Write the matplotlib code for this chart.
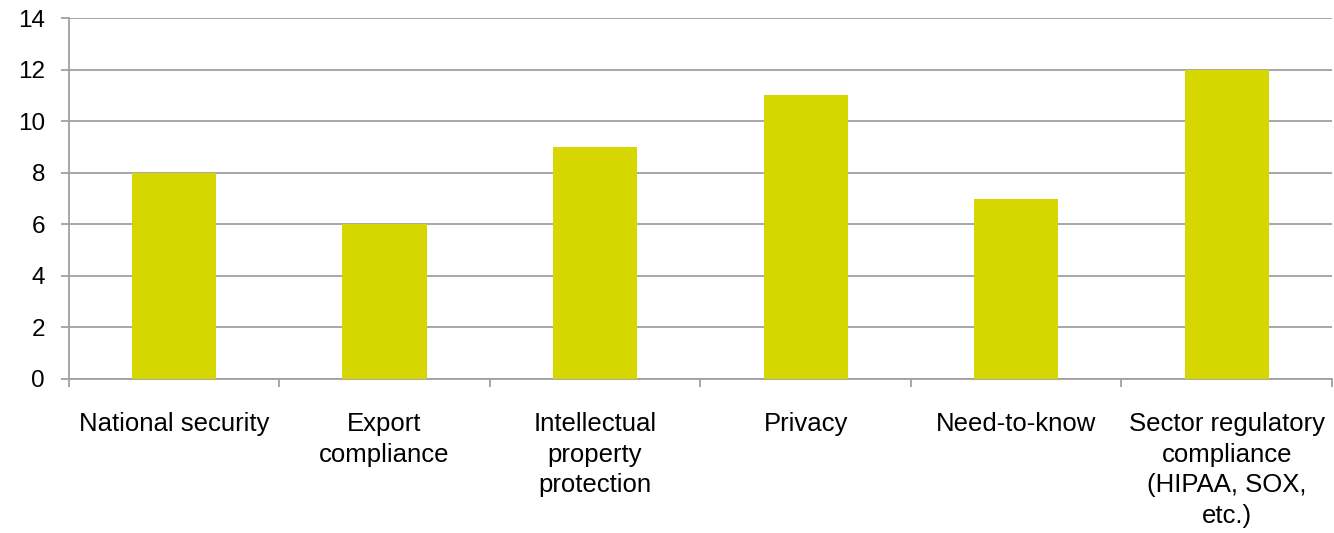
import matplotlib
matplotlib.use("Agg")
import matplotlib.pyplot as plt
import numpy as np

categories = [
    "National security",
    "Export\ncompliance",
    "Intellectual\nproperty\nprotection",
    "Privacy",
    "Need-to-know",
    "Sector regulatory\ncompliance\n(HIPAA, SOX,\netc.)",
]
values = [8, 6, 9, 11, 7, 12]
y_ticks = [0, 2, 4, 6, 8, 10, 12, 14]

plt.rcParams["font.family"] = ["Liberation Sans", "DejaVu Sans"]

fig = plt.figure(figsize=(13.34, 5.33), dpi=100)
ax = fig.add_axes([0.0515, 0.289, 0.947, 0.677])

x = np.arange(len(categories))
ax.bar(x, values, width=0.4, color="#D6D600", zorder=3)

ax.set_xlim(-0.5, len(categories) - 0.5)
ax.set_ylim(0, 14)
ax.set_yticks(y_ticks)
ax.yaxis.grid(True, color="#A0A0A0", linewidth=1.3, zorder=0)
ax.set_axisbelow(True)

for side in ["top", "right"]:
    ax.spines[side].set_visible(False)
for side in ["left", "bottom"]:
    ax.spines[side].set_color("#A0A0A0")
    ax.spines[side].set_linewidth(1.3)

ax.tick_params(axis="y", length=6, width=1.3, color="#A0A0A0", labelsize=17.5, pad=11)
ax.set_yticklabels([str(t) for t in y_ticks])

# category labels centred, tick marks at category boundaries
ax.set_xticks(x)
ax.set_xticklabels(categories, fontsize=18.5, linespacing=1.34, va="top")
ax.tick_params(axis="x", which="major", length=0, pad=24)
ax.set_xticks(np.arange(-0.5, len(categories) + 0.5, 1.0), minor=True)
ax.tick_params(axis="x", which="minor", length=6, width=1.3, color="#A0A0A0")

fig.savefig("out.png", dpi=100)
